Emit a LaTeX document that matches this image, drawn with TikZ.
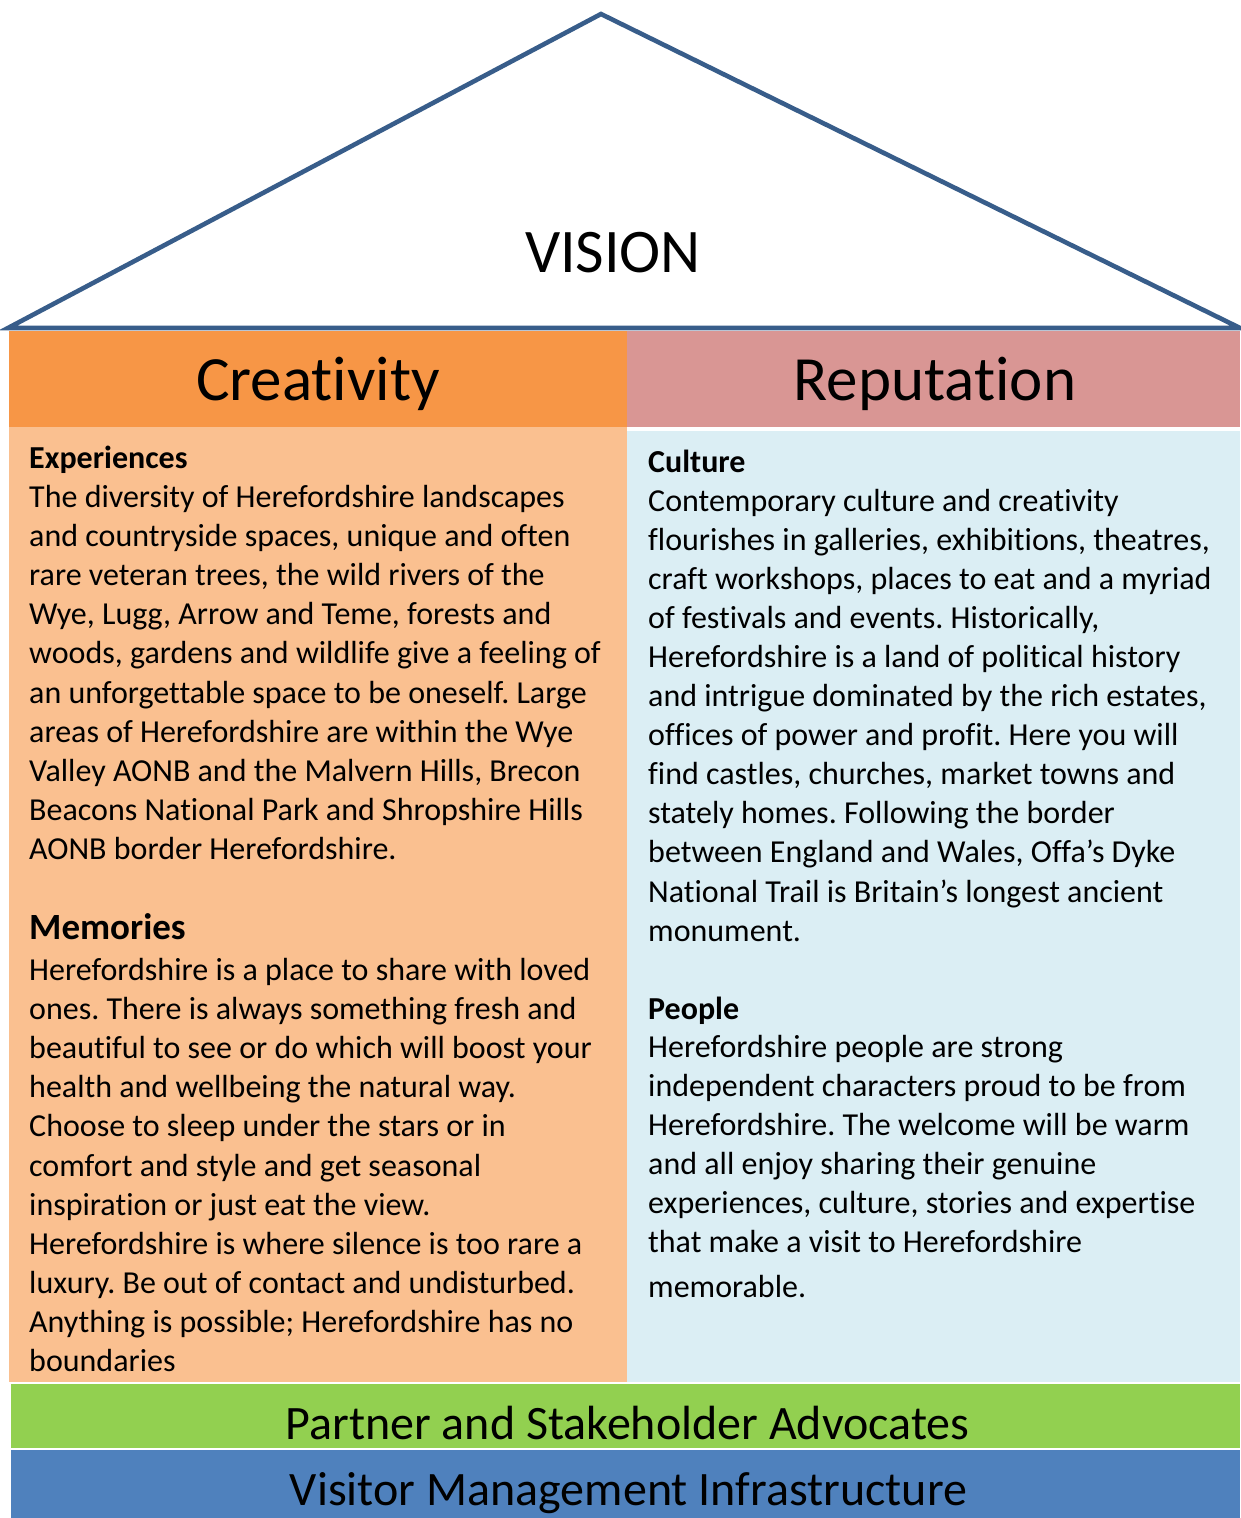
\documentclass[tikz,border=0pt]{standalone}
\usepackage{fontspec}
\setmainfont{Carlito}[Ligatures=CommonOff]
\frenchspacing
\definecolor{roofline}{HTML}{385D8A}
\definecolor{creahead}{HTML}{F79646}
\definecolor{rephead}{HTML}{D99694}
\definecolor{creabody}{HTML}{FAC090}
\definecolor{repbody}{HTML}{DBEEF4}
\definecolor{greenbar}{HTML}{92D050}
\definecolor{bluebar}{HTML}{4F81BD}
\tikzset{
  bodytext/.style={anchor=base west, inner sep=0pt, font=\fontsize{32}{39.1}\selectfont},
  subhead/.style={anchor=base west, inner sep=0pt, font=\fontsize{32}{39.1}\selectfont\bfseries},
  bighead/.style={anchor=base, inner sep=0pt, font=\fontsize{63}{70}\selectfont},
  barhead/.style={anchor=base, inner sep=0pt, font=\fontsize{48}{56}\selectfont},
}
\begin{document}
\begin{tikzpicture}[x=1pt,y=-1pt]
\useasboundingbox (0,0) rectangle (1240,1518);
\fill[white] (0,0) rectangle (1240,1518);
% column blocks
\fill[creahead] (9,331) rectangle (627,427);
\fill[rephead] (627,331) rectangle (1240,427);
\fill[creabody] (9,427) rectangle (627,1382);
\fill[repbody] (627,430.5) rectangle (1240,1382);
\fill[greenbar] (11,1383.5) rectangle (1240,1447.5);
\fill[bluebar] (11,1449.5) rectangle (1240,1518);
% roof
\coordinate (roofL) at (8,328);
\coordinate (roofT) at (601,14);
\coordinate (roofR) at (1240,328);
\draw[roofline, line width=4.6pt, line join=miter] (roofL) -- (roofT) -- (roofR) -- cycle;
\node[bighead, font=\fontsize{62}{70}\selectfont] (vision) at (613,272) {VISION};
% headers
\node[bighead] (crea) at (318,400) {Creativity};
\node[bighead] (rep) at (935,400) {Reputation};
% left column
\node[subhead] (exph) at (29,468) {Experiences};
\node[bodytext] (expt) at (29,507.5) {\parbox[t]{600pt}{The diversity of Herefordshire landscapes\\
and countryside spaces, unique and often\\
rare veteran trees, the wild rivers of the\\
Wye, Lugg, Arrow and Teme, forests and\\
woods, gardens and wildlife give a feeling of\\
an unforgettable space to be oneself. Large\\
areas of Herefordshire are within the Wye\\
Valley AONB and the Malvern Hills, Brecon\\
Beacons National Park and Shropshire Hills\\
AONB border Herefordshire.}};
\node[subhead, font=\fontsize{37}{44}\selectfont\bfseries] (memh) at (29,939.5) {Memories};
\node[bodytext] (memt) at (29,980.5) {\parbox[t]{600pt}{Herefordshire is a place to share with loved\\
ones. There is always something fresh and\\
beautiful to see or do which will boost your\\
health and wellbeing the natural way.\\
Choose to sleep under the stars or in\\
comfort and style and get seasonal\\
inspiration or just eat the view.\\
Herefordshire is where silence is too rare a\\
luxury. Be out of contact and undisturbed.\\
Anything is possible; Herefordshire has no\\
boundaries}};
% right column
\node[subhead] (culh) at (648,472) {Culture};
\node[bodytext] (cult) at (648,511) {\parbox[t]{600pt}{Contemporary culture and creativity\\
flourishes in galleries, exhibitions, theatres,\\
craft workshops, places to eat and a myriad\\
of festivals and events. Historically,\\
Herefordshire is a land of political history\\
and intrigue dominated by the rich estates,\\
offices of power and profit. Here you will\\
find castles, churches, market towns and\\
stately homes. Following the border\\
between England and Wales, Offa’s Dyke\\
National Trail is Britain’s longest ancient\\
monument.}};
\node[subhead] (peoh) at (648,1019) {People};
\node[bodytext] (peot) at (648,1057) {\parbox[t]{600pt}{Herefordshire people are strong\\
independent characters proud to be from\\
Herefordshire. The welcome will be warm\\
and all enjoy sharing their genuine\\
experiences, culture, stories and expertise\\
that make a visit to Herefordshire\\[6pt]
memorable.}};
% foundation bars
\node[barhead] (partner) at (627.5,1439) {Partner and Stakeholder Advocates};
\node[barhead] (visitor) at (628.5,1505) {Visitor Management Infrastructure};
\end{tikzpicture}
\end{document}
